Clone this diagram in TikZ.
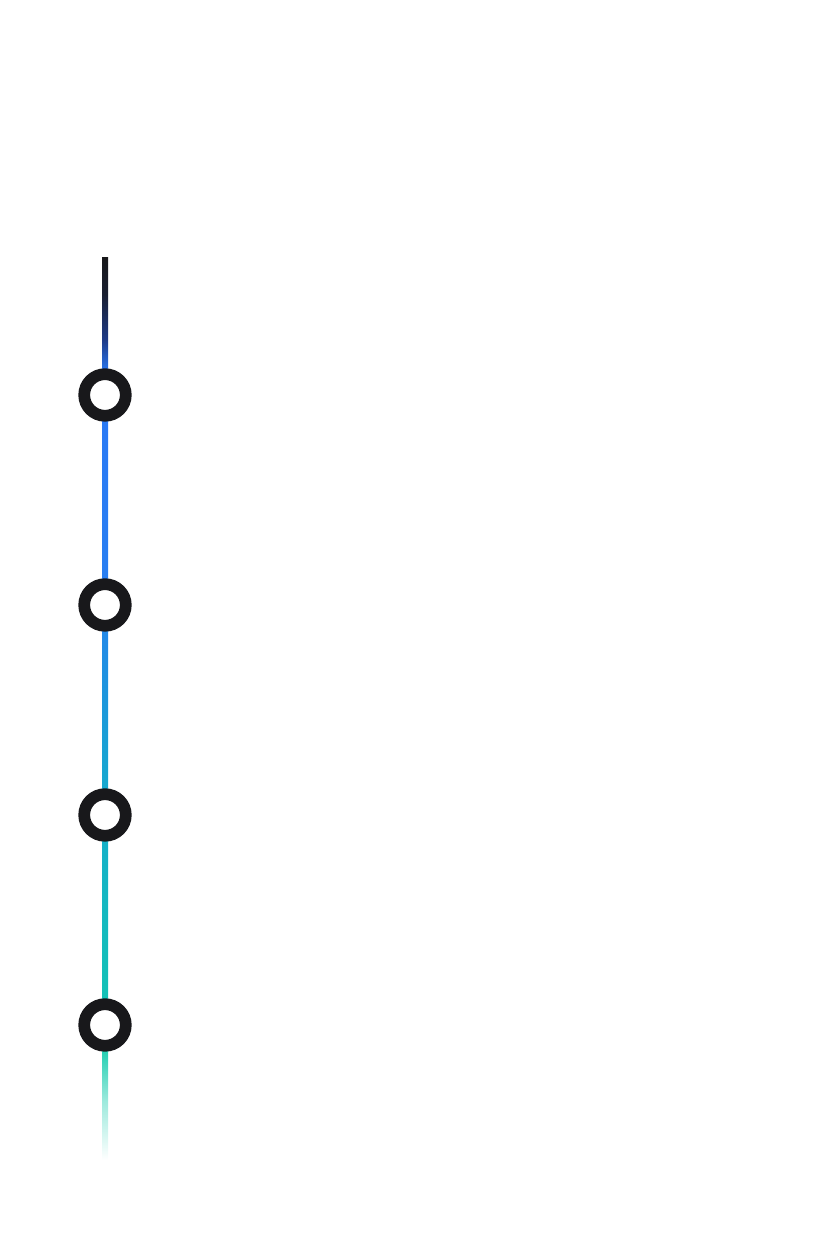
\documentclass[tikz,border=0pt]{standalone}
\usetikzlibrary{positioning}
\definecolor{ink}{HTML}{18181B}
\definecolor{navy}{HTML}{1E3A86}
\definecolor{blue}{HTML}{2A7AF5}
\definecolor{sky}{HTML}{1C97DC}
\definecolor{cyan}{HTML}{14AECB}
\definecolor{teal}{HTML}{13C2B6}
\definecolor{mint}{HTML}{22CFB2}
% rail colours, bottom (25bp) to top (75bp)
\pgfdeclareverticalshading{railfade}{100bp}{color(0bp)=(white); color(25bp)=(white);
 color(28.3bp)=(mint!45); color(31.1bp)=(mint); color(33.9bp)=(teal);
 color(44.1bp)=(cyan); color(50.5bp)=(sky); color(57.2bp)=(blue!85!sky);
 color(66bp)=(blue); color(68.8bp)=(blue!90!navy); color(70.5bp)=(navy);
 color(73bp)=(ink!80!navy); color(75bp)=(ink); color(100bp)=(ink)}

\begin{document}
\begin{tikzpicture}[x=1pt,y=1pt,
 milestone/.style={circle,draw=ink,fill=white,line width=11.7pt,minimum size=41.6pt,inner sep=0pt}]
\path[use as bounding box] (0,0) rectangle (816,1242);
\coordinate (railtop) at (105,984);
\coordinate (railend) at (105,82);
\shade[shading=railfade] ([xshift=-3pt]railend) rectangle ([xshift=3pt]railtop);
\foreach \y/\n in {847/m1,637/m2,427/m3,217/m4}
 \node[milestone] (\n) at (105,\y) {};
\end{tikzpicture}
\end{document}
